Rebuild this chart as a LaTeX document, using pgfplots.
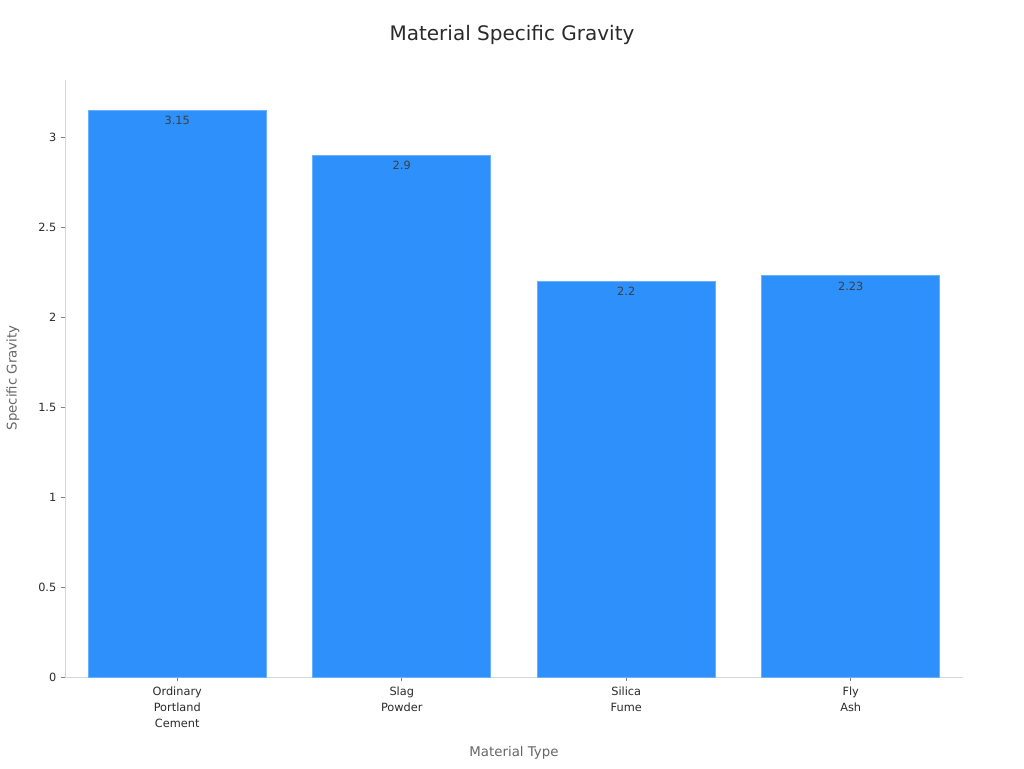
\documentclass[border=0pt]{standalone}
\usepackage{pgfplots}
\pgfplotsset{compat=1.18}
\usepackage{fontspec}
\setmainfont{DejaVu Sans}
\definecolor{barblue}{HTML}{2E90FA}
\definecolor{baredge}{HTML}{6AB0FB}
\definecolor{axgray}{HTML}{D6D6D6}
\definecolor{txt}{HTML}{2A2A2A}
\definecolor{lbl}{HTML}{666666}
\begin{document}
\begin{tikzpicture}
\path[use as bounding box] (0,0) rectangle (768pt,576pt);
\begin{axis}[
  at={(48.75pt,68.25pt)}, anchor=south west,
  scale only axis, width=673.5pt, height=447.75pt,
  ybar, bar width=133.5pt, bar shift=0pt,
  xmin=-0.5, xmax=3.5, ymin=0, ymax=3.317,
  axis lines*=left,
  axis line style={axgray, line width=0.7pt},
  xtick={0,1,2,3},
  xticklabels={{Ordinary\\Portland\\Cement},{Slag\\Powder},{Silica\\Fume},{Fly\\Ash}},
  xticklabel style={align=center, font=\fontsize{8.5}{12}\selectfont, text=txt, yshift=-1pt},
  ytick={0,0.5,1,1.5,2,2.5,3},
  yticklabel style={font=\fontsize{8.5}{11}\selectfont, text=txt},
  /pgf/number format/assume math mode=true,
  tick align=outside, major tick length=3pt,
  tick style={gray, line width=0.6pt},
  nodes near coords,
  every node near coord/.append style={anchor=north, yshift=-1pt, font=\fontsize{8.5}{10}\selectfont, text=txt!90},
  point meta=explicit symbolic,
  clip=false,
]
\addplot[fill=barblue, draw=baredge, line width=0.6pt] coordinates {
  (0,3.15) [3.15]
  (1,2.9) [2.9]
  (2,2.2) [2.2]
  (3,2.23) [2.23]
};
\end{axis}
\node[font=\fontsize{15}{18}\selectfont, text=txt] at (384pt,549.75pt) {Material Specific Gravity};
\node[font=\fontsize{10}{12}\selectfont, text=lbl] at (385.5pt,11.5pt) {Material Type};
\node[font=\fontsize{10}{12}\selectfont, text=lbl, rotate=90] at (9.75pt,292.5pt) {Specific Gravity};
\end{tikzpicture}
\end{document}
